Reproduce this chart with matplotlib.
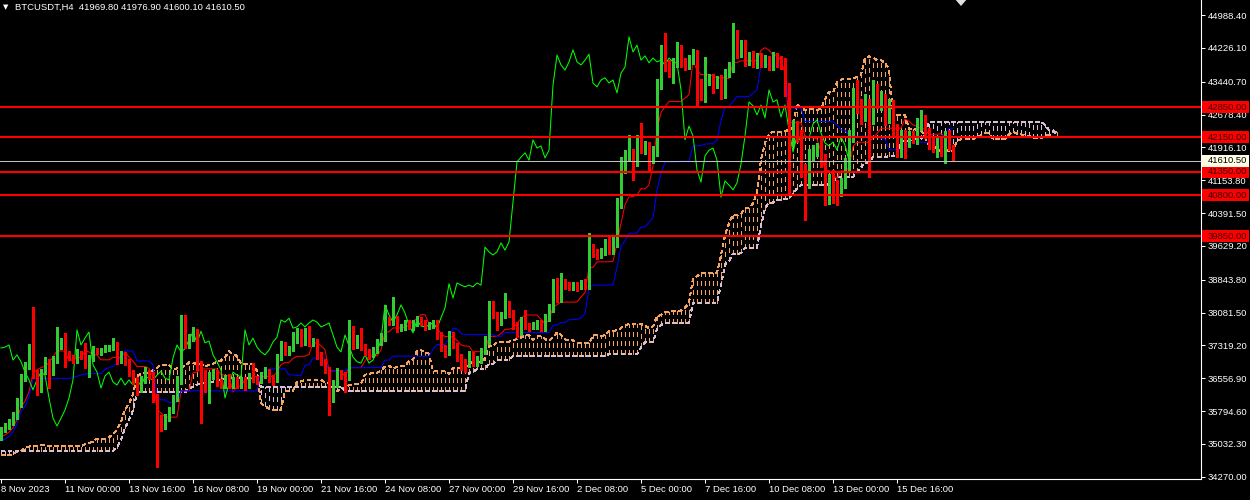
import numpy as np
import pandas as pd
import matplotlib
matplotlib.use("Agg")
import matplotlib.pyplot as plt
import matplotlib.transforms as mtransforms
from matplotlib.patches import Rectangle, Polygon

plt.rcParams['font.family'] = ['Liberation Sans', 'DejaVu Sans']

# header of the chart
symbol = "BTCUSDT,H4"
last_ohlc = [41969.80, 41976.90, 41600.10, 41610.50]
first_open = 35200

# H4 closes, bar 0 = 8 Nov 2023 08:00
closes = [
    35360, 35450, 35540, 35680, 35980, 36560, 36840, 37210, 36700, 36290,
    36700, 36940, 36700, 36980, 37280, 37380, 37100, 37030, 36980, 37140,
    37070, 36940, 37030, 37210, 37170, 37210, 37260, 37280, 37330, 36980,
    37100, 36940, 36700, 36520, 36290, 36520, 36700, 36630, 36100, 35630,
    35450, 35630, 35820, 36100, 36520, 37680, 37330, 37490, 37630, 36870,
    36700, 36330, 36610, 36700, 36470, 36400, 36560, 36400, 36520, 36400,
    36520, 36380, 36590, 36560, 36520, 36630, 36720, 36560, 36520, 37030,
    37330, 37170, 37240, 37450, 37630, 37380, 37650, 37380, 37420, 37100,
    36940, 36750, 36100, 36420, 36700, 36630, 36590, 37680, 37330, 37490,
    37280, 37170, 37100, 37210, 37400, 37510, 37910, 37860, 37950, 37720,
    37750, 37840, 37750, 37840, 37910, 37860, 37750, 37790, 37840, 37560,
    37280, 37170, 37560, 37310, 37050, 36940, 36910, 37100, 36910, 36980,
    37170, 37450, 38260, 38030, 37860, 38030, 38260, 38070, 37790, 37610,
    37910, 37770, 37750, 37790, 37840, 37720, 37960, 38190, 38750, 38420,
    38770, 38720, 38680, 38720, 38680, 38770, 38720, 39600, 39490, 39420,
    39490, 39700, 39530, 39720, 40650, 41580, 41690, 41790, 41620, 42090,
    41900, 41950, 41670, 41850, 43360, 44060, 43830, 43710, 43900, 44180,
    43900, 43830, 43940, 44080, 43410, 43320, 43480, 43530, 43410, 43480,
    43180, 43640, 43780, 44480, 44130, 44290, 43940, 44040, 43880, 43990,
    43900, 43940, 43830, 43990, 43900, 43870, 43250, 42090, 42410, 42180,
    41390, 41110, 41720, 41850, 41900, 41620, 40760, 41140, 41040, 40930,
    41090, 41530, 42180, 42970, 42880, 42670, 42900, 42600, 43250, 42970,
    43020, 42620, 42900, 42320, 41810, 42180, 42060, 42180, 42130, 42460,
    42550, 42250, 42020, 41950, 42040, 41860, 42160, 41970, 41610.5,
]

# wick lengths above / below the body
wick_up = [
    60, 80, 70, 90, 120, 100, 90, 150, 1000, 60,
    80, 100, 60, 90, 470, 110, 230, 80, 70, 90,
    60, 310, 70, 100, 60, 50, 80, 60, 160, 70,
    80, 60, 70, 50, 60, 90, 110, 60, 80, 90,
    70, 90, 60, 80, 100, 350, 350, 90, 120, 60,
    80, 60, 90, 70, 60, 80, 70, 90, 60, 70,
    60, 70, 80, 320, 60, 70, 90, 60, 70, 80,
    100, 80, 60, 180, 90, 70, 80, 110, 70, 60,
    70, 60, 80, 90, 100, 60, 70, 230, 90, 80,
    230, 70, 60, 80, 70, 90, 350, 80, 490, 60,
    70, 60, 80, 60, 90, 70, 60, 80, 70, 60,
    70, 60, 90, 80, 60, 70, 60, 80, 70, 90,
    80, 90, 100, 80, 60, 70, 280, 80, 60, 70,
    80, 230, 60, 70, 60, 80, 90, 100, 120, 130,
    230, 80, 70, 60, 80, 70, 90, 330, 80, 70,
    80, 90, 160, 120, 100, 110, 160, 410, 90, 120,
    390, 110, 90, 100, 150, 230, 510, 120, 100, 180,
    120, 100, 110, 130, 90, 100, 530, 90, 80, 100,
    110, 100, 120, 320, 160, 120, 110, 100, 120, 110,
    120, 110, 100, 130, 110, 140, 120, 150, 130, 120,
    130, 140, 150, 120, 110, 260, 140, 150, 250, 130,
    120, 140, 130, 330, 520, 150, 260, 140, 240, 130,
    200, 130, 140, 120, 150, 130, 140, 110, 120, 130,
    230, 120, 110, 130, 140, 120, 130, 160, 7,
]
wick_down = [
    80, 50, 60, 70, 60, 80, 70, 60, 140, 120,
    60, 50, 370, 60, 70, 50, 280, 60, 80, 60,
    70, 140, 350, 80, 60, 70, 50, 60, 70, 90,
    60, 80, 90, 100, 120, 60, 70, 80, 100, 1130,
    110, 80, 60, 70, 80, 100, 60, 80, 70, 120,
    1180, 100, 350, 60, 90, 70, 80, 60, 70, 80,
    70, 90, 60, 80, 90, 70, 60, 80, 110, 60,
    60, 70, 80, 60, 70, 80, 60, 70, 80, 90,
    80, 70, 400, 90, 60, 80, 350, 70, 90, 60,
    70, 80, 90, 60, 70, 60, 80, 70, 60, 90,
    60, 70, 60, 80, 60, 70, 80, 60, 70, 90,
    100, 120, 70, 60, 90, 190, 210, 80, 70, 60,
    70, 60, 90, 80, 180, 60, 70, 90, 80, 100,
    60, 70, 90, 60, 80, 70, 60, 80, 90, 100,
    90, 100, 80, 70, 90, 60, 80, 100, 110, 90,
    70, 80, 90, 100, 120, 150, 260, 100, 460, 130,
    110, 130, 280, 120, 140, 100, 130, 150, 300, 120,
    110, 120, 100, 90, 560, 300, 350, 120, 230, 110,
    130, 110, 100, 120, 130, 110, 140, 120, 110, 130,
    110, 130, 120, 110, 120, 130, 140, 1230, 150, 140,
    160, 880, 140, 120, 130, 150, 170, 160, 420, 350,
    140, 120, 150, 140, 160, 200, 140, 1370, 150, 140,
    180, 180, 140, 150, 120, 120, 400, 130, 120, 140,
    130, 120, 140, 150, 260, 140, 310, 120, 10,
]

# bars before the visible window (only needed for the ichimoku lines)
pre_high = [
    34700, 34650, 34600, 34550, 34500, 34450, 34400, 34700, 35000, 35300,
    35500, 35590, 35550, 35400, 35200, 35000, 34850, 34800, 34750, 34700,
    34650, 34600, 34700, 34800, 34900, 35000, 35100, 35100, 35150, 35200,
    35250, 35250, 35300, 35350, 35400, 35350, 35300, 35250, 35200, 35250,
    35300, 35350, 35300, 35250, 35200, 35250, 35300, 35350, 35400, 35450,
    35500, 35450,
]
pre_low = [
    34450, 34380, 34300, 34250, 34200, 34150, 34130, 34300, 34600, 34900,
    35100, 35200, 35150, 35000, 34800, 34600, 34500, 34450, 34400, 34350,
    34300, 34250, 34450, 34500, 34600, 34700, 34800, 34700, 34750, 34800,
    34850, 34950, 35000, 35050, 35100, 35050, 35000, 34950, 34900, 34950,
    35000, 35050, 35000, 34950, 34900, 34950, 35000, 35050, 35100, 35150,
    35200, 35250,
]

levels = [42850, 42150, 41350, 40800, 39850]
bid = 41610.5

price_ticks = [44988.40, 44226.10, 43440.70, 42678.40, 41916.10, 41153.80,
               40391.50, 39629.20, 38843.80, 38081.50, 37319.20, 36556.90,
               35794.60, 35032.30, 34270.00]
date_labels = ["8 Nov 2023", "11 Nov 00:00", "13 Nov 16:00", "16 Nov 08:00",
               "19 Nov 00:00", "21 Nov 16:00", "24 Nov 08:00", "27 Nov 00:00",
               "29 Nov 16:00", "2 Dec 08:00", "5 Dec 00:00", "7 Dec 16:00",
               "10 Dec 08:00", "13 Dec 00:00", "15 Dec 16:00"]
date_bars = [0, 16, 32, 48, 64, 80, 96, 112, 128, 144, 160, 176, 192, 208, 224]

# --- candles ---
closes = np.array(closes, dtype=float)
opens = np.concatenate([[first_open], closes[:-1]])
opens[-1] = last_ohlc[0]
highs = np.maximum(opens, closes) + np.array(wick_up)
lows = np.minimum(opens, closes) - np.array(wick_down)
highs[-1] = last_ohlc[1]
lows[-1] = last_ohlc[2]
n = len(closes)

# --- ichimoku 9/26/52 ---
h_all = pd.Series(np.concatenate([pre_high, highs]))
l_all = pd.Series(np.concatenate([pre_low, lows]))


def midline(period):
    return ((h_all.rolling(period, min_periods=1).max()
             + l_all.rolling(period, min_periods=1).min()) / 2).to_numpy()


tenkan_all = midline(9)
kijun_all = midline(26)
spanb_all = midline(52)
npre = len(pre_high)
tenkan = tenkan_all[npre:]
kijun = kijun_all[npre:]
xc = np.arange(n + 26)
src = xc - 26 + npre
span_a = (tenkan_all[src] + kijun_all[src]) / 2
span_b = spanb_all[src]
chikou = closes[26:]

# --- figure ---
fig = plt.figure(figsize=(12.5, 5), dpi=100, facecolor='black')
ax = fig.add_axes([0, 21 / 500, 1201 / 1250, 479 / 500], facecolor='black')
ax.set_xlim(-0.25, 300)
ymin, ymax = 34219.0, 45336.6
ax.set_ylim(ymin, ymax)
px = (ymax - ymin) / 479  # price per pixel

sandy = '#F4A460'
thistle = '#D8BFD8'
dash = (0, (3, 3))
cloud_cols = np.where(span_a >= span_b, sandy, thistle)
ax.vlines(xc, np.minimum(span_a, span_b), np.maximum(span_a, span_b),
          colors=list(cloud_cols), linewidths=1.0, linestyles=dash,
          zorder=1, antialiased=False)
ax.plot(xc, span_a, color=sandy, lw=0.75, ls=dash, zorder=1, antialiased=False)
ax.plot(xc, span_b, color=thistle, lw=0.75, ls=dash, zorder=1, antialiased=False)

x = np.arange(n)
ax.plot(x, tenkan, color='#FF0000', lw=0.75, zorder=2)
ax.plot(x, kijun, color='#0000FF', lw=0.75, zorder=2)
ax.plot(np.arange(len(chikou)), chikou, color='#00FF00', lw=0.75, zorder=2)

colors = np.where(closes >= opens, '#32CD32', '#FF0000')
ax.vlines(x, lows, highs, colors=list(colors), linewidth=0.75, zorder=3,
          antialiased=False)
body = np.maximum(np.abs(closes - opens), px)
ax.bar(x, body, bottom=np.minimum(opens, closes), width=0.75, color=colors,
       linewidth=0, zorder=3, antialiased=False)

# horizontal levels and bid line
for lv in levels:
    ax.axhline(lv, color='#FF0000', lw=1.5, zorder=4)
ax.axhline(bid, color='#C0C0C0', lw=0.75, zorder=4)

# axes styling
for side in ['top', 'left']:
    ax.spines[side].set_visible(False)
for side in ['right', 'bottom']:
    ax.spines[side].set_color('white')
    ax.spines[side].set_linewidth(0.8)
ax.yaxis.tick_right()
ax.set_yticks(price_ticks)
ax.set_yticklabels([f"{p:.2f}" for p in price_ticks])
ax.tick_params(axis='y', colors='white', labelcolor='white', labelsize=6.8,
               length=3, width=0.75, pad=2)
ax.set_xticks(date_bars)
ax.set_xticklabels(date_labels, ha='left')
ax.tick_params(axis='x', colors='white', labelcolor='white', labelsize=6.8,
               length=3, width=0.75, pad=1.5)

# price boxes on the right axis
trans = mtransforms.blended_transform_factory(ax.transAxes, ax.transData)
x0 = 1202 / 1201
x1 = 1249 / 1201
for lv in levels:
    ax.add_patch(Rectangle((x0, lv - 6 * px), x1 - x0, 12 * px, transform=trans,
                           facecolor='#FF0000', edgecolor='none', clip_on=False, zorder=6))
    ax.text(1208 / 1201, lv, f"{lv:.2f}", transform=trans, ha='left', va='center',
            fontsize=6.8, color='#3a0000', zorder=7, clip_on=False)
ax.add_patch(Rectangle((x0, bid - 6 * px), x1 - x0, 12 * px, transform=trans,
                       facecolor='#FFFFE6', edgecolor='none', clip_on=False, zorder=6))
ax.text(1208 / 1201, bid, f"{bid:.2f}", transform=trans, ha='left', va='center',
        fontsize=6.8, color='black', zorder=7, clip_on=False)

# chart shift marker
ax.add_patch(Polygon([(238.7, ymax), (241.3, ymax), (240, ymax - 6 * px)],
                     closed=True, facecolor='#E0E0E0', edgecolor='none',
                     clip_on=False, zorder=6))

# header text
title = f"{symbol}  " + " ".join(f"{v:.2f}" for v in last_ohlc)
fig.text(3 / 1250, 1 - 7.5 / 500, "\u25bc", color='white', fontsize=5,
         va='center', ha='left', family=['DejaVu Sans'])
fig.text(15 / 1250, 1 - 7.5 / 500, title, color='white', fontsize=6.8,
         va='center', ha='left')

fig.savefig("out.png", dpi=100, facecolor='black')
